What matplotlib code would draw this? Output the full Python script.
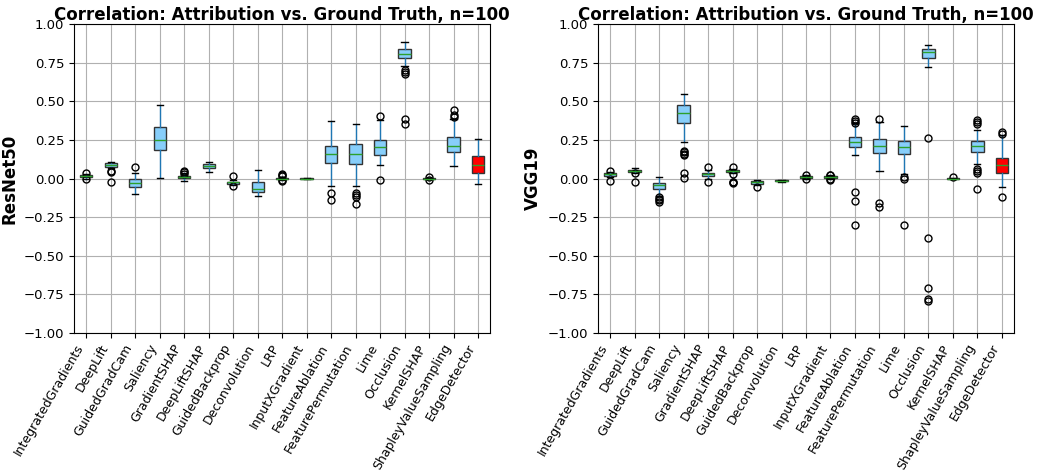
import matplotlib
matplotlib.use("Agg")
import matplotlib.pyplot as plt

methods = ["IntegratedGradients", "DeepLift", "GuidedGradCam", "Saliency", "GradientSHAP",
           "DeepLiftSHAP", "GuidedBackprop", "Deconvolution", "LRP", "InputXGradient",
           "FeatureAblation", "FeaturePermutation", "Lime", "Occlusion", "KernelSHAP",
           "ShapleyValueSampling", "EdgeDetector"]

# ResNet50: median, q1, q3, lower whisker, upper whisker, outliers
resnet_med = [0.015, 0.086, -0.028, 0.253, 0.008, 0.082, -0.025, -0.067, 0.0, 0.0,
              0.160, 0.160, 0.205, 0.810, 0.0, 0.212, 0.091]
resnet_q1 = [0.008, 0.076, -0.054, 0.188, 0.001, 0.069, -0.032, -0.084, -0.003, -0.002,
             0.104, 0.097, 0.151, 0.780, -0.002, 0.173, 0.039]
resnet_q3 = [0.021, 0.099, -0.004, 0.335, 0.015, 0.095, -0.019, -0.022, 0.004, 0.002,
             0.214, 0.225, 0.253, 0.836, 0.002, 0.268, 0.145]
resnet_lo = [0.0, 0.069, -0.097, 0.006, -0.013, 0.045, -0.040, -0.110, -0.010, -0.004,
             -0.045, -0.050, 0.091, 0.730, -0.005, 0.084, -0.032]
resnet_hi = [0.030, 0.110, 0.037, 0.475, 0.035, 0.110, -0.008, 0.056, 0.012, 0.004,
             0.374, 0.354, 0.378, 0.886, 0.005, 0.384, 0.255]
resnet_out = [[0.035, -0.005], [0.050, 0.040, -0.024], [0.076], [], [0.047, 0.040, 0.032],
              [], [0.019, -0.045], [], [0.028, 0.022, 0.018, -0.012, -0.015], [],
              [-0.092, -0.139], [-0.096, -0.109, -0.122, -0.165], [0.404, -0.006],
              [0.700, 0.690, 0.680, 0.389, 0.356], [0.010, -0.006], [0.443, 0.410, 0.400], []]

# VGG19
vgg_med = [0.028, 0.050, -0.043, 0.425, 0.028, 0.050, -0.025, -0.013, 0.010, 0.010,
           0.238, 0.212, 0.207, 0.821, 0.0, 0.210, 0.086]
vgg_q1 = [0.019, 0.043, -0.065, 0.361, 0.017, 0.045, -0.032, -0.017, 0.006, 0.006,
          0.205, 0.168, 0.158, 0.784, -0.002, 0.173, 0.035]
vgg_q3 = [0.035, 0.056, -0.028, 0.475, 0.039, 0.056, -0.017, -0.010, 0.014, 0.014,
          0.268, 0.255, 0.244, 0.836, 0.002, 0.246, 0.136]
vgg_lo = [0.010, 0.035, -0.110, 0.240, 0.000, 0.035, -0.040, -0.022, 0.000, 0.000,
          0.153, 0.052, 0.032, 0.724, -0.005, 0.093, -0.052]
vgg_hi = [0.045, 0.069, 0.009, 0.549, 0.055, 0.065, -0.006, -0.006, 0.020, 0.020,
          0.360, 0.367, 0.341, 0.868, 0.005, 0.317, 0.280]
vgg_out = [[0.048, -0.017], [0.035, -0.022], [-0.120, -0.130, -0.140, -0.150],
           [0.180, 0.170, 0.160, 0.150, 0.039, 0.006], [0.076, -0.022],
           [0.078, 0.028, -0.020, -0.025, -0.030], [-0.054], [], [0.022, -0.005],
           [0.024, 0.020, -0.004, -0.006], [0.385, 0.370, 0.360, -0.089, -0.144, -0.303],
           [0.387, -0.161, -0.186], [0.011, -0.004, -0.303],
           [0.266, -0.387, -0.707, -0.782, -0.791], [0.010],
           [0.378, 0.365, 0.355, 0.065, 0.050, 0.037, -0.069], [0.302, 0.290, -0.119]]

yticks = [-1, -0.75, -0.5, -0.25, 0, 0.25, 0.5, 0.75, 1]


def make_stats(med, q1, q3, lo, hi, out):
    stats = []
    for i in range(len(methods)):
        stats.append({"med": med[i], "q1": q1[i], "q3": q3[i], "whislo": lo[i],
                      "whishi": hi[i], "fliers": out[i], "label": methods[i]})
    return stats


def draw(ax, stats, ylabel):
    bp = ax.bxp(stats, patch_artist=True, widths=0.5,
                boxprops=dict(edgecolor="#333333", linewidth=1),
                whiskerprops=dict(color="#1f77b4", linewidth=1),
                capprops=dict(color="black", linewidth=1),
                medianprops=dict(color="#2ca02c", linewidth=1),
                flierprops=dict(marker="o", markerfacecolor="none", markeredgecolor="black",
                                markersize=5))
    for i, box in enumerate(bp["boxes"]):
        box.set_facecolor("red" if methods[i] == "EdgeDetector" else "#87CEFA")
    ax.set_ylim(-1, 1)
    ax.set_yticks(yticks)
    ax.yaxis.set_major_formatter(matplotlib.ticker.StrMethodFormatter("{x:.2f}"))
    ax.grid(True, color="#b0b0b0", linewidth=0.8)
    ax.set_axisbelow(True)
    ax.set_xticklabels(methods, rotation=60, ha="right")
    ax.tick_params(labelsize=9.5)
    ax.tick_params(axis="x", labelsize=9, pad=3)
    ax.set_title("Correlation: Attribution vs. Ground Truth, n=100", fontsize=12,
                 fontweight="bold", pad=3)
    ax.set_ylabel(ylabel, fontsize=12, fontweight="bold")


fig = plt.figure(figsize=(10.38, 4.74), dpi=100)
ax1 = fig.add_axes([0.0713, 0.2975, 0.401, 0.6515])
ax2 = fig.add_axes([0.576, 0.2975, 0.401, 0.6515])
draw(ax1, make_stats(resnet_med, resnet_q1, resnet_q3, resnet_lo, resnet_hi, resnet_out), "ResNet50")
draw(ax2, make_stats(vgg_med, vgg_q1, vgg_q3, vgg_lo, vgg_hi, vgg_out), "VGG19")
fig.savefig("out.png", dpi=100)
